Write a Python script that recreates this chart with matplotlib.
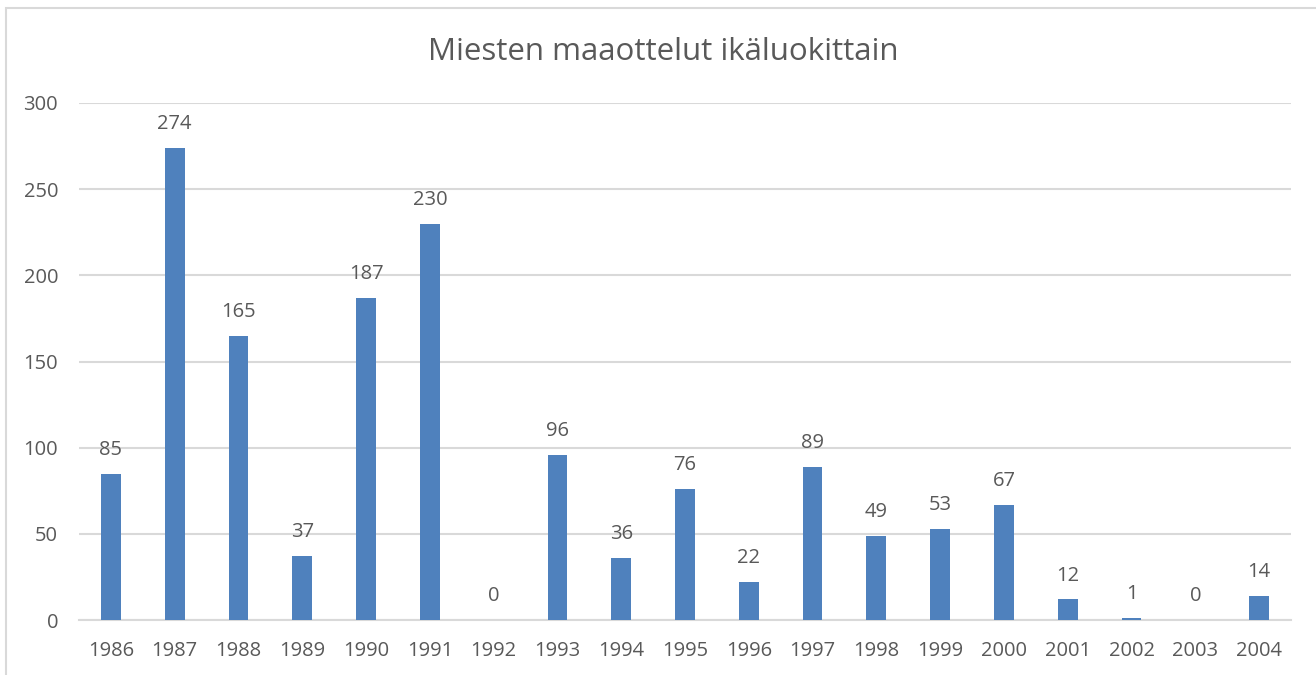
import matplotlib
matplotlib.use("Agg")
import matplotlib.pyplot as plt
from matplotlib.patches import Rectangle

years = ["1986", "1987", "1988", "1989", "1990", "1991", "1992", "1993", "1994", "1995",
         "1996", "1997", "1998", "1999", "2000", "2001", "2002", "2003", "2004"]
values = [85, 274, 165, 37, 187, 230, 0, 96, 36, 76, 22, 89, 49, 53, 67, 12, 1, 0, 14]
yticks = [0, 50, 100, 150, 200, 250, 300]
title = "Miesten maaottelut ikäluokittain"

plt.rcParams['font.family'] = ['Open Sans', 'DejaVu Sans']
txt = "#595959"
bar_color = "#4F81BD"
grid_color = "#D9D9D9"

fig = plt.figure(figsize=(13.16, 6.75), dpi=100)
fig.patches.append(Rectangle((6/1316, -0.1), 1.2, 1 - 8/675 + 0.1, transform=fig.transFigure,
                             fill=False, edgecolor="#D9D9D9", linewidth=1.5))
ax = fig.add_axes([79/1316, 1 - 620/675, (1291 - 79)/1316, (620 - 103)/675])

x = list(range(len(years)))
ax.bar(x, values, width=0.31, color=bar_color, zorder=3)
for xi, v in zip(x, values):
    ax.text(xi, v + 8, str(v), ha="center", va="bottom", fontsize=14.5, color=txt)

ax.set_xlim(-0.5, len(years) - 0.5)
ax.set_ylim(0, 300)
ax.set_yticks(yticks)
ax.set_yticklabels([str(t) for t in yticks], fontsize=14.5, color=txt)
ax.set_xticks(x)
ax.set_xticklabels(years, fontsize=14.5, color=txt)
ax.tick_params(axis="both", length=0)
ax.tick_params(axis="y", pad=15)
ax.tick_params(axis="x", pad=15)
ax.grid(axis="y", color=grid_color, linewidth=1.5, zorder=0)
for s in ["top", "right", "left"]:
    ax.spines[s].set_visible(False)
ax.spines["bottom"].set_color(grid_color)
ax.spines["bottom"].set_linewidth(1.5)

fig.text(663/1316, 1 - 52/675, title, ha="center", va="center", fontsize=22.5, color=txt)

fig.savefig("out.png", dpi=100)
